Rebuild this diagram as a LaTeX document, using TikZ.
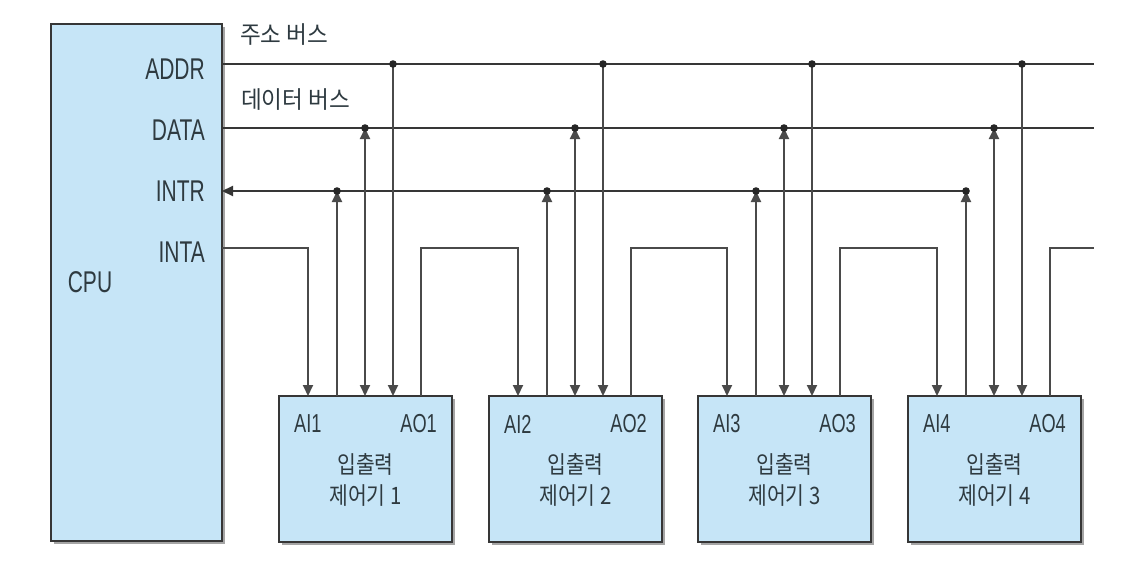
\documentclass[tikz,border=0pt]{standalone}
\usepackage{fontspec}
\setmainfont{Liberation Sans}[FakeStretch=0.7]
\newfontfamily\kofont{Noto Sans CJK KR}[FakeStretch=0.85]
\newfontfamily\kobus{Noto Sans CJK KR}[FakeStretch=0.94]
\usetikzlibrary{arrows.meta,shadows}
\definecolor{caixa}{HTML}{C6E5F7}
\definecolor{linia}{HTML}{363636}
\definecolor{lletra}{HTML}{2E3A40}

\begin{document}
\begin{tikzpicture}[x=1pt,y=-1pt,>={Triangle[width=10pt,length=11pt]},
  bloc/.style={draw=linia,line width=1.6pt,fill=caixa,inner sep=0pt,outer sep=0pt,
    drop shadow={shadow xshift=3pt,shadow yshift=-3pt,fill=black!70,opacity=0.5}},
  bus/.style={draw=linia,line width=2.2pt},
  fil/.style={draw=linia!90,line width=2pt},
  etiq/.style={font=\fontsize{30}{34}\selectfont,text=lletra,inner sep=0pt},
  petita/.style={etiq,font=\fontsize{26}{30}\selectfont},
  nom/.style={font=\kofont\fontsize{24}{31.5}\selectfont,text=lletra,inner sep=0pt,align=center},
  nombus/.style={nom,font=\kobus\fontsize{24}{30}\selectfont},
  punt/.style={fill=black!85}]
\useasboundingbox (0,0) rectangle (1127,562);
% CPU i senyals
\node[bloc,minimum width=171pt,minimum height=517pt] (cpu) at (136.5,282.5) {};
\node[etiq] (cpulbl) at (90,282) {CPU};
\node[etiq,anchor=east] (addrlbl) at (205,69) {ADDR};
\node[etiq,anchor=east] (datalbl) at (205,130) {DATA};
\node[etiq,anchor=east] (intrlbl) at (205,191) {INTR};
\node[etiq,anchor=east] (intalbl) at (205,252) {INTA};
\node[nombus,anchor=west] (abus) at (240,35) {주소 버스};
\node[nombus,anchor=west] (dbus) at (241,100) {데이터 버스};
% Busos
\coordinate (addrW) at (cpu.east |- 0,64);
\coordinate (addrE) at (1094,64);
\coordinate (dataW) at (cpu.east |- 0,128);
\coordinate (dataE) at (1094,128);
\coordinate (intrW) at (cpu.east |- 0,191);
\coordinate (intrE) at (966,191);
\coordinate (intaW) at (cpu.east |- 0,248);
\coordinate (intaE) at (1094,248);
\draw[bus] (addrW) -- (addrE);
\draw[bus] (dataW) -- (dataE);
\draw[bus,->] (intrE) -- (intrW);
% Controladors
\foreach \i/\x in {1/279,2/489,3/698,4/908} {
  \node[bloc,minimum width=173pt,minimum height=146pt,anchor=north west] (ctl\i) at (\x,396) {};
  \node[petita,anchor=west] (ail\i) at ([xshift=15pt,yshift=-28pt]ctl\i.north west) {AI\i};
  \node[petita,anchor=east] (aol\i) at ([xshift=-15pt,yshift=-28pt]ctl\i.north east) {AO\i};
  \node[nom] (ctlt\i) at ([yshift=-11pt]ctl\i.center) {입출력\\제어기 \i};
  \coordinate (ai\i) at ([xshift=29pt]ctl\i.north west);
  \coordinate (ir\i) at ([xshift=58pt]ctl\i.north west);
  \coordinate (dt\i) at ([xshift=86pt]ctl\i.north west);
  \coordinate (ad\i) at ([xshift=114pt]ctl\i.north west);
  \coordinate (ao\i) at ([xshift=142pt]ctl\i.north west);
  \draw[fil,->] (ad\i |- addrW) -- (ad\i);
  \draw[fil,<->] (dt\i) -- (dt\i |- dataW);
  \draw[fil,->] (ir\i) -- (ir\i |- intrW);
  \fill[punt] (ad\i |- addrW) circle (3.8pt);
  \fill[punt] (dt\i |- dataW) circle (3.8pt);
  \fill[punt] (ir\i |- intrW) circle (3.8pt);
}
% Cadena INTA
\draw[fil,->] (intaW) -| (ai1);
\foreach \i/\j in {1/2,2/3,3/4}
  \draw[fil,->] (ao\i) -- (ao\i |- intaW) -| (ai\j);
\draw[fil] (ao4) |- (intaE);
\end{tikzpicture}
\end{document}
